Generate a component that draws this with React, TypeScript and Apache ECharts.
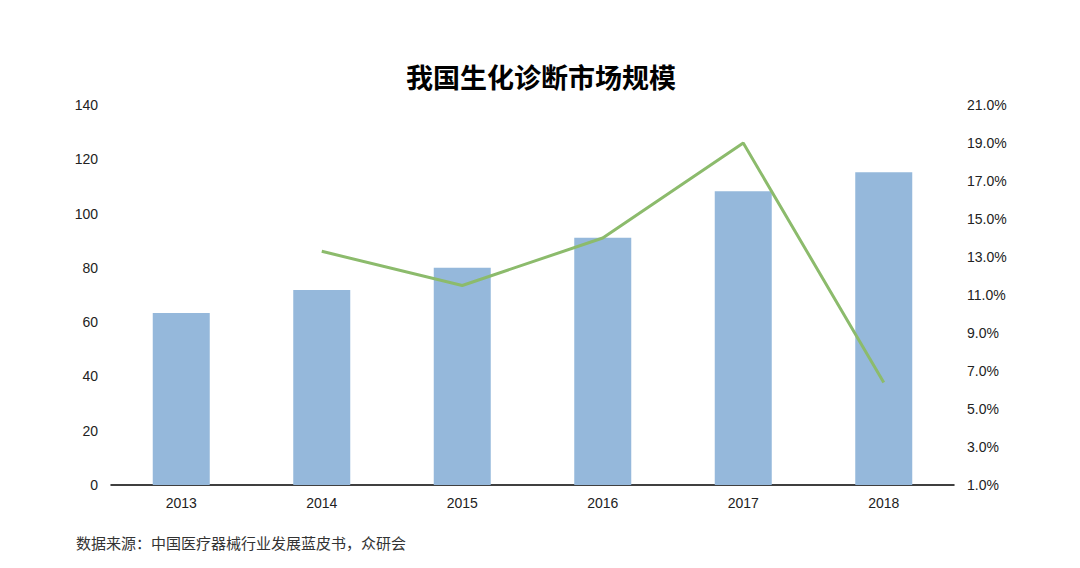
import React, { useEffect, useRef } from "react";
import * as echarts from "echarts";

const categories = ["2013", "2014", "2015", "2016", "2017", "2018"];
const marketSize = [63.4, 71.8, 80.0, 91.1, 108.2, 115.2];
const growthRate = [null, 13.3, 11.5, 14.0, 19.0, 6.4];
const leftTicks = { min: 0, max: 140, interval: 20 };
const rightTicks = { min: 1, max: 21, interval: 2 };

const FONT = "'Liberation Sans', Arial, sans-serif";

export default function App() {
  const ref = useRef<HTMLDivElement>(null);
  useEffect(() => {
    if (!ref.current) return;
    const chart = echarts.init(ref.current, null, { renderer: "svg" });
    chart.setOption({
      animation: false,
      backgroundColor: "#ffffff",
      graphic: [
        {
          type: "text",
          x: 533,
          y: 68,
          style: {
            text: "我国生化诊断市场规模",
            fontSize: 27,
            fontWeight: "bold",
            fill: "#000",
            align: "center",
            verticalAlign: "middle",
            fontFamily: "'Noto Sans CJK SC', sans-serif",
          },
        },
        {
          type: "text",
          left: 68,
          top: 527,
          style: {
            text: "数据来源：中国医疗器械行业发展蓝皮书，众研会",
            fontSize: 15,
            fill: "#333",
            fontFamily: "'Noto Sans CJK SC', sans-serif",
          },
        },
      ],
      grid: { left: 103, right: 134, top: 97, bottom: 91, containLabel: false },
      xAxis: {
        type: "category",
        data: categories,
        axisTick: { show: false },
        axisLine: { lineStyle: { color: "#000", width: 1.5 } },
        axisLabel: { color: "#222", fontSize: 14, fontFamily: FONT, margin: 11 },
      },
      yAxis: [
        {
          type: "value",
          min: leftTicks.min,
          max: leftTicks.max,
          interval: leftTicks.interval,
          splitLine: { show: false },
          axisLine: { show: false },
          axisTick: { show: false },
          axisLabel: { color: "#222", fontSize: 14, fontFamily: FONT, margin: 13 },
        },
        {
          type: "value",
          min: rightTicks.min,
          max: rightTicks.max,
          interval: rightTicks.interval,
          splitLine: { show: false },
          axisLine: { show: false },
          axisTick: { show: false },
          axisLabel: {
            color: "#222",
            fontSize: 14,
            fontFamily: FONT,
            margin: 13,
            formatter: (v: number) => v.toFixed(1) + "%",
          },
        },
      ],
      series: [
        {
          type: "bar",
          data: marketSize,
          barWidth: 57,
          itemStyle: { color: "#95b8db" },
        },
        {
          type: "line",
          yAxisIndex: 1,
          data: growthRate,
          symbol: "none",
          lineStyle: { color: "#8cbb6c", width: 3 },
          itemStyle: { color: "#8cbb6c" },
        },
      ],
    });
    return () => chart.dispose();
  }, []);
  return <div ref={ref} style={{ width: 1080, height: 568 }} />;
}
